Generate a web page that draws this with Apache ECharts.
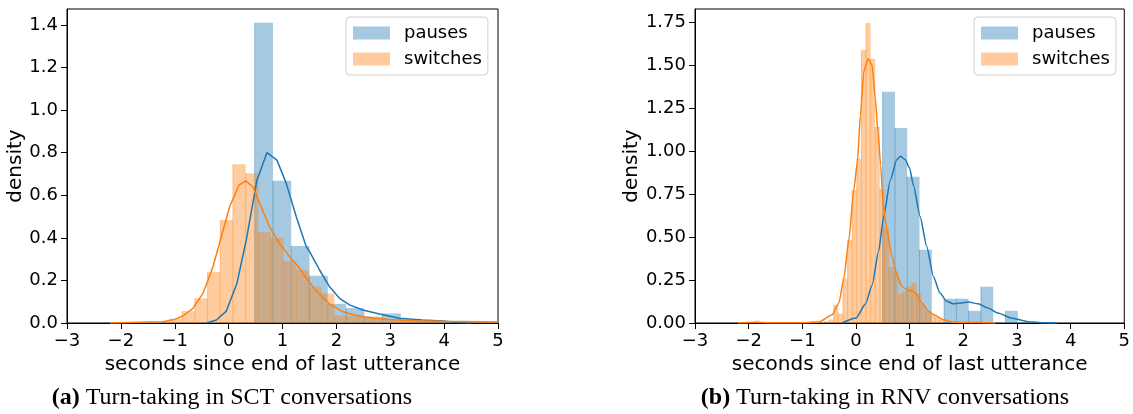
<!DOCTYPE html>
<html><head><meta charset="utf-8">
<script src="https://cdn.jsdelivr.net/npm/echarts@6/dist/echarts.min.js"></script>
<style>html,body{margin:0;padding:0;background:#fff}#c{width:1133px;height:414px}</style>
</head><body><div id="c"></div>
<script>
// ---- data ----
const xTicks = [-3, -2, -1, 0, 1, 2, 3, 4, 5];
const yTicksA = [0, 0.2, 0.4, 0.6, 0.8, 1.0, 1.2, 1.4];
const yTicksB = [0, 0.25, 0.5, 0.75, 1.0, 1.25, 1.5, 1.75];
const seriesNames = ['pauses', 'switches'];
const captionA = 'Turn-taking in SCT conversations';
const captionB = 'Turn-taking in RNV conversations';

// (a) SCT histograms: first bin edge, bin width, densities
const pausesA_start = 0.484, pausesA_width = 0.339;
const pausesA_heights = [1.41, 0.668, 0.362, 0.222, 0.09, 0.07, 0.03, 0.045, 0.017, 0.01, 0.006];
const switchesA_start = -1.333, switchesA_width = 0.2355;
const switchesA_heights = [0.005, 0.02, 0.056, 0.116, 0.239, 0.484, 0.746, 0.704, 0.427, 0.399,
  0.29, 0.249, 0.17, 0.139, 0.036, 0.034, 0.03, 0.022, 0.015, 0.012, 0.01, 0.008, 0.006, 0.005, 0.005, 0.004];
// (a) KDE curves
const pausesA_kde = [[-0.414,0],[-0.228,0.014],[-0.043,0.056],[0.154,0.186],[0.328,0.39],[0.526,0.671],
  [0.711,0.80],[0.897,0.765],[1.07,0.656],[1.256,0.499],[1.441,0.358],[1.503,0.335],[1.688,0.249],
  [1.874,0.170],[2.059,0.116],[2.245,0.085],[2.49,0.061],[2.80,0.042],[3.17,0.022],[3.6,0.014],
  [3.98,0.009],[4.22,0.003],[4.5,0]];
const switchesA_kde = [[-2.2,0],[-1.466,0.005],[-1.219,0.006],[-1.0,0.017],[-0.848,0.033],[-0.662,0.069],
  [-0.476,0.139],[-0.291,0.264],[-0.136,0.405],[0.019,0.546],[0.192,0.648],[0.315,0.668],[0.451,0.64],
  [0.575,0.562],[0.76,0.452],[0.946,0.374],[1.132,0.311],[1.317,0.257],[1.38,0.232],[1.627,0.15],
  [1.874,0.089],[2.12,0.053],[2.37,0.035],[2.68,0.022],[2.99,0.016],[3.48,0.011],[4.0,0.008],[5.0,0.005]];

// (b) RNV histograms
const pausesB_start = 0.497, pausesB_width = 0.229;
const pausesB_heights = [1.345, 1.135, 0.851, 0.426, 0, 0.141, 0.141, 0.071, 0.211, 0, 0.071];
const switchesB_start = -1.872, switchesB_width = 0.0858;
const switchesB_heights = [0.013, 0, 0, 0, 0, 0, 0, 0, 0, 0, 0, 0,
  0.01, 0.01, 0.005, 0.01, 0.02, 0.106, 0.054, 0.26, 0.484, 0.775, 0.955, 1.589, 1.746, 1.537, 1.14,
  0.78, 0.552, 0.326, 0.30, 0.17, 0.184, 0.213, 0.233, 0.174, 0.106, 0.068, 0.048, 0.035, 0.019,
  0, 0.01, 0.01, 0, 0, 0, 0.01, 0.01];
// (b) KDE curves
const pausesB_kde = [[-0.26,0],[0.0,0.029],[0.176,0.11],[0.30,0.22],[0.423,0.42],[0.516,0.62],[0.64,0.83],
  [0.76,0.95],[0.83,0.97],[0.92,0.95],[1.0,0.9],[1.071,0.80],[1.195,0.62],[1.318,0.445],[1.442,0.271],
  [1.566,0.174],[1.689,0.126],[1.81,0.112],[1.95,0.116],[2.09,0.122],[2.276,0.112],[2.46,0.087],
  [2.647,0.058],[2.893,0.029],[3.2,0.008],[3.51,0.002],[3.75,0]];
const switchesB_kde = [[-2.2,0],[-1.9,0.004],[-1.6,0.001],[-1.06,0.001],[-0.69,0.006],[-0.443,0.048],
  [-0.319,0.116],[-0.226,0.26],[-0.133,0.484],[-0.04,0.775],[0.027,0.94],[0.083,1.21],[0.145,1.463],
  [0.225,1.537],[0.30,1.50],[0.36,1.31],[0.41,1.11],[0.46,0.92],[0.503,0.70],[0.577,0.542],[0.669,0.387],
  [0.762,0.28],[0.855,0.213],[0.947,0.194],[1.04,0.188],[1.13,0.168],[1.225,0.116],[1.35,0.068],
  [1.47,0.045],[1.627,0.019],[1.81,0.005],[2.0,0.003],[2.3,0.003],[2.6,0]];

// ---- styling ----
const BLUE = '#1f77b4', ORANGE = '#ff7f0e';
const BLUE_F = 'rgba(31,119,180,0.4)', ORANGE_F = 'rgba(255,127,14,0.4)';
const FONT = 'DejaVu Sans';
const FS = 18, FS_NAME = 20;

function histSeries(name, start, width, heights, fill, idx) {
  const data = heights.map((h, i) => [start + i * width, start + (i + 1) * width, h]);
  return {
    type: 'custom', name: name, xAxisIndex: idx, yAxisIndex: idx,
    itemStyle: { color: fill },
    encode: { x: [0, 1], y: 2 },
    data: data,
    renderItem: function (params, api) {
      const h = api.value(2);
      if (!h) return null;
      const p0 = api.coord([api.value(0), h]);
      const p1 = api.coord([api.value(1), 0]);
      return {
        type: 'group', children: [
          { type: 'rect', shape: { x: p0[0], y: p0[1], width: p1[0] - p0[0], height: p1[1] - p0[1] },
            style: { fill: fill } },
          { type: 'line', shape: { x1: p0[0], y1: p0[1], x2: p0[0], y2: p1[1] },
            style: { stroke: fill, lineWidth: 1 } }
        ]
      };
    }
  };
}
function kdeSeries(name, pts, color, idx, smooth) {
  return { type: 'line', name: name, xAxisIndex: idx, yAxisIndex: idx, data: pts,
    showSymbol: false, symbol: 'none', smooth: smooth, smoothMonotone: 'x',
    lineStyle: { color: color, width: 1.5 }, itemStyle: { color: color }, silent: true, z: 3 };
}
const fmtX = v => v < 0 ? '\u2212' + Math.abs(v) : String(v);

function xAxis(idx) {
  return { type: 'value', gridIndex: idx, min: -3, max: 5, interval: 1,
    name: 'seconds since end of last utterance', nameLocation: 'middle', nameGap: 25,
    nameTextStyle: { fontFamily: FONT, fontSize: FS_NAME, color: '#000' },
    axisLine: { show: true, onZero: false, lineStyle: { color: '#000', width: 1 } },
    axisTick: { show: true, length: 6, lineStyle: { color: '#000' }, customValues: xTicks },
    axisLabel: { fontFamily: FONT, fontSize: FS, color: '#000', margin: 9, formatter: fmtX, customValues: xTicks },
    splitLine: { show: false } };
}
function yAxis(idx, max, ticks, dec, gap) {
  return { type: 'value', gridIndex: idx, min: 0, max: max,
    name: 'density', nameLocation: 'middle', nameGap: gap,
    nameTextStyle: { fontFamily: FONT, fontSize: FS_NAME, color: '#000' },
    axisLine: { show: true, onZero: false, lineStyle: { color: '#000', width: 1 } },
    axisTick: { show: true, length: 6, lineStyle: { color: '#000' }, customValues: ticks },
    axisLabel: { fontFamily: FONT, fontSize: FS, color: '#000', margin: 9,
      formatter: v => v.toFixed(dec), customValues: ticks },
    splitLine: { show: false } };
}
function legend(left) {
  return { left: left, top: 17, orient: 'vertical', selectedMode: false, icon: 'rect',
    itemWidth: 37, itemHeight: 13, itemGap: 8,
    data: [{ name: seriesNames[0], itemStyle: { color: BLUE_F } },
           { name: seriesNames[1], itemStyle: { color: ORANGE_F } }],
    textStyle: { fontFamily: FONT, fontSize: FS, color: '#000', padding: [0, 0, 0, 9] },
    borderColor: '#d0d0d0', borderWidth: 1, borderRadius: 4, padding: [7, 6, 7, 7],
    backgroundColor: 'rgba(255,255,255,0.8)' };
}

const chart = echarts.init(document.getElementById('c'), null, { renderer: 'canvas' });
chart.setOption({
  animation: false,
  backgroundColor: '#fff',
  grid: [
    { left: 67, top: 9, width: 431, height: 314, show: true, borderColor: '#000', borderWidth: 1, backgroundColor: 'transparent' },
    { left: 695, top: 9, width: 432, height: 314, show: true, borderColor: '#000', borderWidth: 1, backgroundColor: 'transparent' }
  ],
  xAxis: [xAxis(0), xAxis(1)],
  yAxis: [yAxis(0, 1.475, yTicksA, 1, 33), yAxis(1, 1.827, yTicksB, 2, 48)],
  legend: [legend(346), legend(974)],
  series: [
    histSeries(seriesNames[0], pausesA_start, pausesA_width, pausesA_heights, BLUE_F, 0),
    kdeSeries('pausesKDE_a', pausesA_kde, BLUE, 0, false),
    histSeries(seriesNames[1], switchesA_start, switchesA_width, switchesA_heights, ORANGE_F, 0),
    kdeSeries('switchesKDE_a', switchesA_kde, ORANGE, 0, false),
    histSeries(seriesNames[0], pausesB_start, pausesB_width, pausesB_heights, BLUE_F, 1),
    kdeSeries('pausesKDE_b', pausesB_kde, BLUE, 1, 0.2),
    histSeries(seriesNames[1], switchesB_start, switchesB_width, switchesB_heights, ORANGE_F, 1),
    kdeSeries('switchesKDE_b', switchesB_kde, ORANGE, 1, 0.2)
  ],
  graphic: [
    { type: 'text', x: 232, y: 398, style: { text: '{b|(a)} ' + captionA, align: 'center', verticalAlign: 'middle',
      fontFamily: 'Liberation Serif', fontSize: 24, fill: '#000',
      rich: { b: { fontWeight: 'bold', fontFamily: 'Liberation Serif', fontSize: 24, fill: '#000' } } } },
    { type: 'text', x: 885, y: 398, style: { text: '{b|(b)} ' + captionB, align: 'center', verticalAlign: 'middle',
      fontFamily: 'Liberation Serif', fontSize: 24, fill: '#000',
      rich: { b: { fontWeight: 'bold', fontFamily: 'Liberation Serif', fontSize: 24, fill: '#000' } } } }
  ]
});
</script></body></html>
